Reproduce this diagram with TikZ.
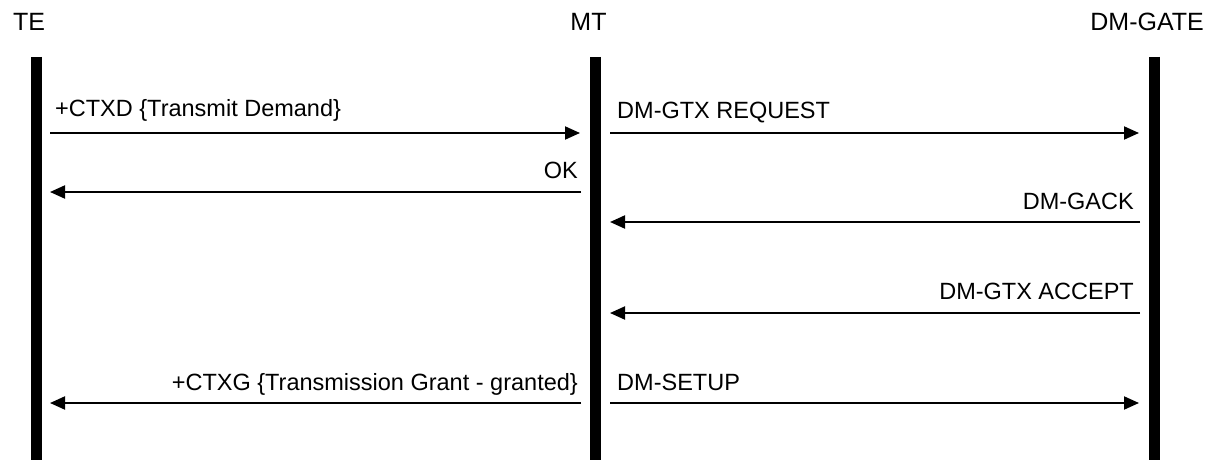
\documentclass[tikz,border=0pt]{standalone}
\usepackage{fontspec}
\setmainfont{Liberation Sans}
\usetikzlibrary{arrows.meta}

\begin{document}
\begin{tikzpicture}[line cap=butt,line join=miter,>={Triangle[length=15pt,width=13pt]},x=1pt,y=-1pt,
  lifeline/.style={line width=11pt},
  msg/.style={line width=2pt,->},
  title/.style={font=\fontsize{25}{30}\selectfont},
  lbl/.style={font=\fontsize{23.5}{28}\selectfont,inner sep=0pt}]
\useasboundingbox (0,0) rectangle (1215,460);

% lifelines
\coordinate (TEtop) at (36.5, 57);
\coordinate (TEbot) at (36.5, 460);
\coordinate (MTtop) at (595.5, 57);
\coordinate (MTbot) at (595.5, 460);
\coordinate (GWtop) at (1154, 57);
\coordinate (GWbot) at (1154, 460);

\draw[lifeline] (TEtop) -- (TEbot);
\draw[lifeline] (MTtop) -- (MTbot);
\draw[lifeline] (GWtop) -- (GWbot);

\node[title, inner sep=0pt, anchor=base west] (TE) at (13, 31) {TE};
\node[title, inner sep=0pt, anchor=base] (MT) at (588.5, 31) {MT};
\node[title, inner sep=0pt, anchor=base east] (GW) at (1204, 31) {DM-GATE};

% message end points
\coordinate (a1) at (50, 133);    \coordinate (b1) at (580, 133);
\coordinate (a2) at (581, 192);   \coordinate (b2) at (50, 192);
\coordinate (a3) at (610, 133);   \coordinate (b3) at (1139, 133);
\coordinate (a4) at (1140, 222);  \coordinate (b4) at (610, 222);
\coordinate (a5) at (1140, 313);  \coordinate (b5) at (610, 313);
\coordinate (a6) at (581, 403);   \coordinate (b6) at (50, 403);
\coordinate (a7) at (610, 403);   \coordinate (b7) at (1139, 403);

\draw[msg] (a1) -- (b1);
\draw[msg] (a2) -- (b2);
\draw[msg] (a3) -- (b3);
\draw[msg] (a4) -- (b4);
\draw[msg] (a5) -- (b5);
\draw[msg] (a6) -- (b6);
\draw[msg] (a7) -- (b7);

\node[lbl, anchor=base west] (l1) at (55, 116) {+CTXD \{Transmit Demand\}};
\node[lbl, anchor=base east] (l2) at (578, 178) {OK};
\node[lbl, anchor=base west] (l3) at (617, 118) {DM-GTX REQUEST};
\node[lbl, anchor=base east] (l4) at (1134, 209) {DM-GACK};
\node[lbl, anchor=base east] (l5) at (1134, 299) {DM-GTX ACCEPT};
\node[lbl, anchor=base east] (l6) at (578, 390) {+CTXG \{Transmission Grant - granted\}};
\node[lbl, anchor=base west] (l7) at (617, 390) {DM-SETUP};

\end{tikzpicture}
\end{document}
